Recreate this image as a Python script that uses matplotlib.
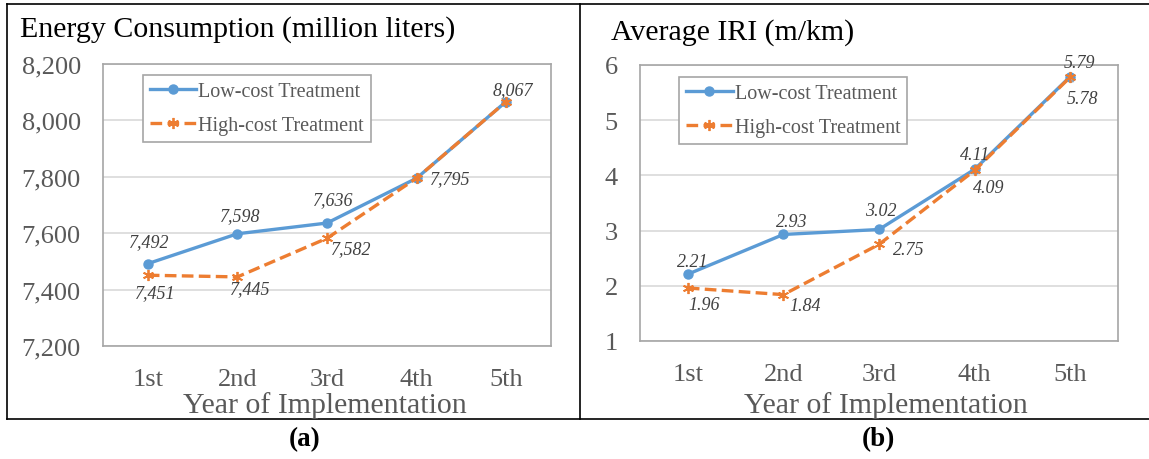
import numpy as np
import matplotlib
matplotlib.use("Agg")
import matplotlib.pyplot as plt
from matplotlib.lines import Line2D

plt.rcParams['font.family'] = ['Liberation Serif', 'DejaVu Serif']

years = ["1st", "2nd", "3rd", "4th", "5th"]
energy_low = [7492, 7598, 7636, 7795, 8067]
energy_high = [7451, 7445, 7582, 7795, 8067]
iri_low = [2.21, 2.93, 3.02, 4.11, 5.79]
iri_high = [1.96, 1.84, 2.75, 4.09, 5.78]

BLUE = "#5B9BD5"
ORANGE = "#ED7D31"
TICK = "#595959"
LABEL = "#404040"

W, H = 1149, 460
fig = plt.figure(figsize=(W / 100, H / 100), dpi=100)


def px_axes(left, top, right, bottom):
    return fig.add_axes([left / W, 1 - bottom / H, (right - left) / W, (bottom - top) / H])


def style_axes(ax, ylim, yticks, yfmt):
    x = np.arange(len(years))
    ax.set_xlim(-0.5, len(years) - 0.5)
    ax.set_ylim(*ylim)
    ax.set_yticks(yticks)
    ax.set_yticklabels([yfmt(v) for v in yticks])
    ax.set_xticks(x)
    ax.set_xticklabels(years)
    ax.tick_params(length=0, labelsize=19, labelcolor=TICK)
    ax.tick_params(axis='y', pad=16)
    ax.tick_params(axis='x', pad=16)
    ax.grid(axis='y', color="#D9D9D9", linewidth=1.2)
    ax.set_axisbelow(True)
    for s in ax.spines.values():
        s.set_color("#A6A6A6")
        s.set_linewidth(1.2)


def draw_lines(ax, low, high):
    x = np.arange(len(years))
    ax.plot(x, low, color=BLUE, lw=2.4, marker='o', ms=6.5, label="Low-cost Treatment", zorder=3)
    ax.plot(x, high, color=ORANGE, lw=2.4, ls=(0, (3.5, 1.6)), marker=(6, 2, 0), ms=8,
            mew=1.3, label="High-cost Treatment", zorder=4)


def put_labels(ax, xs, ys, texts, offsets, leader=()):
    for i, (xi, yi, t, (dx, dy)) in enumerate(zip(xs, ys, texts, offsets)):
        arrow = dict(arrowstyle='-', color='#A6A6A6', lw=0.8, shrinkA=4, shrinkB=2) if i in leader else None
        ax.annotate(t, (xi, yi), xytext=(dx, dy), textcoords='offset pixels',
                    ha='center', va='center', fontsize=13, style='italic', color=LABEL,
                    zorder=5, arrowprops=arrow)


def add_legend(ax, x0, y0):
    leg = ax.legend(loc='upper left', bbox_to_anchor=(x0, y0), borderaxespad=0, fontsize=14.5,
                    frameon=True, fancybox=False, edgecolor="#A6A6A6", framealpha=1,
                    handlelength=2.3, handletextpad=0.1, labelspacing=0.75, borderpad=0.35)
    leg.get_frame().set_linewidth(1.2)
    for t in leg.get_texts():
        t.set_color(TICK)


# (a) energy consumption
ax1 = px_axes(103, 65, 551, 347)
style_axes(ax1, (7200, 8200), np.arange(7200, 8201, 200), lambda v: f"{v:,}")
draw_lines(ax1, energy_low, energy_high)
idx = np.arange(len(years))
put_labels(ax1, idx[[0, 1, 2, 4]], [energy_low[i] for i in (0, 1, 2, 4)],
           [f"{energy_low[i]:,}" for i in (0, 1, 2, 4)],
           [(1, 22), (3, 18), (6, 23), (7, 12)])
put_labels(ax1, idx[[0, 1, 2, 3]], [energy_high[i] for i in (0, 1, 2, 3)],
           [f"{energy_high[i]:,}" for i in (0, 1, 2, 3)],
           [(7, -17), (13, -12), (24, -10), (34, 0)])
add_legend(ax1, 0.089, 0.961)

# (b) average IRI
ax2 = px_axes(640, 66, 1118, 342)
style_axes(ax2, (1, 6), np.arange(1, 7), lambda v: f"{v}")
draw_lines(ax2, iri_low, iri_high)
put_labels(ax2, idx, iri_low, [f"{v:.2f}" for v in iri_low],
           [(5, 13), (8, 13), (2, 19), (0, 15), (9, 14)])
put_labels(ax2, idx, iri_high, [f"{v:.2f}" for v in iri_high],
           [(16, -16), (22, -11), (30, -5), (14, -17), (12, -21)], leader=(4,))
add_legend(ax2, 0.082, 0.957)

# titles, axis captions and panel letters
fig.text(20 / W, 1 - 30 / H, "Energy Consumption (million liters)", fontsize=21.5,
         ha='left', va='center', color='black')
fig.text(611 / W, 1 - 33 / H, "Average IRI (m/km)", fontsize=21.5,
         ha='left', va='center', color='black')
fig.text(325 / W, 1 - 406 / H, "Year of Implementation", fontsize=21.5,
         ha='center', va='center', color=TICK)
fig.text(886 / W, 1 - 406 / H, "Year of Implementation", fontsize=21.5,
         ha='center', va='center', color=TICK)
fig.text(305 / W, 1 - 440 / H, "(a)", fontsize=19.5, fontweight='bold', ha='center', va='center')
fig.text(878 / W, 1 - 440 / H, "(b)", fontsize=19.5, fontweight='bold', ha='center', va='center')

# panel frames
for xs, ys in [((7, W), (5, 5)), ((7, W), (420, 420)), ((7, 7), (5, 420)), ((580, 580), (5, 420))]:
    fig.add_artist(Line2D([x / W for x in xs], [1 - y / H for y in ys], color='black', lw=1.2))

fig.savefig("out.png", dpi=100)
